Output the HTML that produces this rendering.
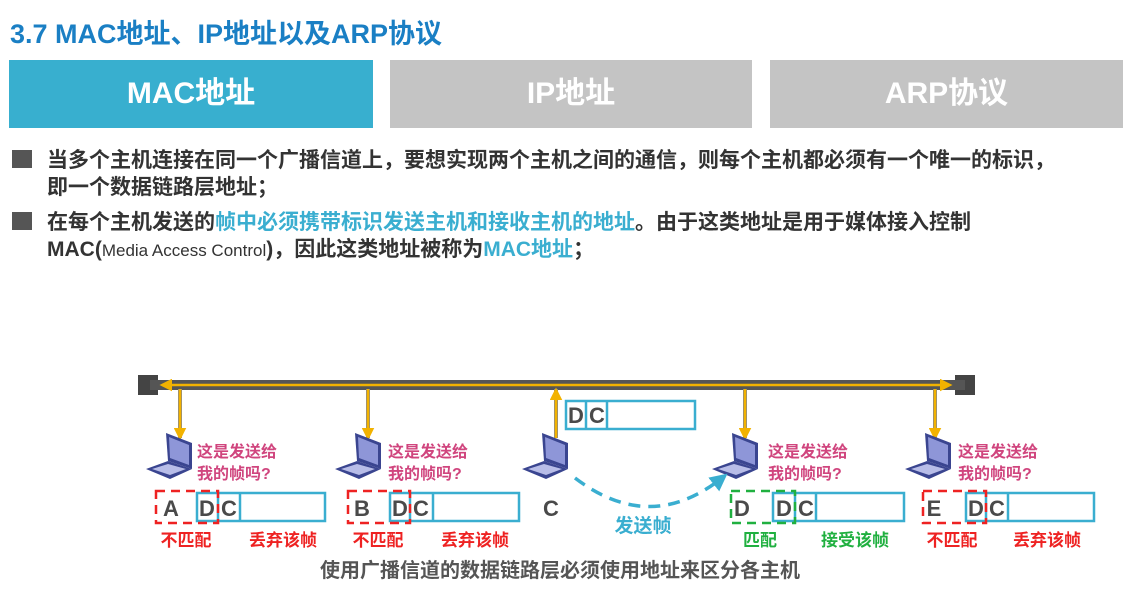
<!DOCTYPE html>
<html><head><meta charset="utf-8"><style>
body{margin:0;width:1123px;height:609px;background:#fff;overflow:hidden;font-family:"Liberation Sans","Noto Sans CJK SC",sans-serif;position:relative}
.a{position:absolute;white-space:nowrap}
.tab{position:absolute;top:60px;height:68px;color:#fff;font-size:30px;font-weight:bold;text-align:center;line-height:68px}
.bl{position:absolute;left:12px;width:20px;height:18px;background:#555}
.t{font-size:21px;font-weight:bold;color:#333;line-height:24px}
.hl{color:#3aaed0}
</style></head><body>
<div class="a" style="left:10px;top:12px;font-size:27px;font-weight:bold;color:#1a7fc4">3.7 MAC地址、IP地址以及ARP协议</div>
<div class="tab" style="left:9px;width:364px;background:#38afcf">MAC地址</div>
<div class="tab" style="left:390px;width:362px;background:#c4c4c4">IP地址</div>
<div class="tab" style="left:770px;width:353px;background:#c4c4c4">ARP协议</div>
<div class="bl" style="top:150px"></div>
<div class="a t" style="left:47px;top:149px">当多个主机连接在同一个广播信道上，要想实现两个主机之间的通信，则每个主机都必须有一个唯一的标识，</div>
<div class="a t" style="left:47px;top:176px">即一个数据链路层地址；</div>
<div class="bl" style="top:212px"></div>
<div class="a t" style="left:47px;top:211px">在每个主机发送的<span class="hl">帧中必须携带标识发送主机和接收主机的地址</span>。由于这类地址是用于媒体接入控制</div>
<div class="a t" style="left:47px;top:238px">MAC(<span style="font-weight:normal;font-size:17px">Media Access Control</span>)，因此这类地址被称为<span class="hl">MAC地址</span>；</div>
<svg width="1123" height="609" style="position:absolute;left:0;top:0" font-family="Liberation Sans,Noto Sans CJK SC,sans-serif">
<defs>
<marker id="ay" markerWidth="5" markerHeight="5" refX="4" refY="2.5" orient="auto"><path d="M0,0L5,2.5L0,5z" fill="#f2b200"/></marker>
<marker id="ab" markerWidth="5" markerHeight="5" refX="3" refY="2.5" orient="auto"><path d="M0,0L5,2.5L0,5z" fill="#3aaed0"/></marker>
<g id="lap">
<polygon points="20,0 46,10 46,36 22,28" fill="#3a4590"/>
<polygon points="23,4 43,12 43,32 24,25" fill="#8e96d8"/>
<polygon points="0,36 22,28 46,36 24,46" fill="#3a4590"/>
<polygon points="6,36 22,31 40,36 24,42" fill="#b8bde8"/>
</g>
</defs>
<rect x="138" y="375" width="20" height="20" fill="#444"/>
<rect x="955" y="375" width="20" height="20" fill="#444"/>
<rect x="150" y="380" width="815" height="10" fill="#555"/>
<line x1="555" y1="385" x2="162" y2="385" stroke="#f2b200" stroke-width="2.5" marker-end="url(#ay)"/>
<line x1="555" y1="385" x2="950" y2="385" stroke="#f2b200" stroke-width="2.5" marker-end="url(#ay)"/>
<g stroke="#888" stroke-width="4"><line x1="180" y1="389" x2="180" y2="438"/><line x1="368" y1="389" x2="368" y2="438"/><line x1="556" y1="389" x2="556" y2="438"/><line x1="745" y1="389" x2="745" y2="438"/><line x1="935" y1="389" x2="935" y2="438"/></g>
<g stroke="#f2b200" stroke-width="2.5"><line x1="180" y1="389" x2="180" y2="438" marker-end="url(#ay)"/><line x1="368" y1="389" x2="368" y2="438" marker-end="url(#ay)"/><line x1="556" y1="438" x2="556" y2="390" marker-end="url(#ay)"/><line x1="745" y1="389" x2="745" y2="438" marker-end="url(#ay)"/><line x1="935" y1="389" x2="935" y2="438" marker-end="url(#ay)"/></g>
<use href="#lap" x="146" y="433"/><use href="#lap" x="335" y="433"/><use href="#lap" x="522" y="433"/><use href="#lap" x="712" y="433"/><use href="#lap" x="905" y="433"/>
<g font-size="16" font-weight="bold" fill="#d0457e">
<text x="197" y="457">这是发送给</text><text x="197" y="479">我的帧吗?</text>
<text x="388" y="457">这是发送给</text><text x="388" y="479">我的帧吗?</text>
<text x="768" y="457">这是发送给</text><text x="768" y="479">我的帧吗?</text>
<text x="958" y="457">这是发送给</text><text x="958" y="479">我的帧吗?</text>
</g>
<g fill="none" stroke="#3aaed0" stroke-width="2.5">
<rect x="566" y="401" width="129" height="28"/><line x1="586" y1="401" x2="586" y2="429"/><line x1="607" y1="401" x2="607" y2="429"/>
<rect x="197" y="493" width="128" height="28"/><line x1="218" y1="493" x2="218" y2="521"/><line x1="240" y1="493" x2="240" y2="521"/>
<rect x="390" y="493" width="129" height="28"/><line x1="410" y1="493" x2="410" y2="521"/><line x1="433" y1="493" x2="433" y2="521"/>
<rect x="773" y="493" width="131" height="28"/><line x1="795" y1="493" x2="795" y2="521"/><line x1="816" y1="493" x2="816" y2="521"/>
<rect x="966" y="493" width="128" height="28"/><line x1="986" y1="493" x2="986" y2="521"/><line x1="1008" y1="493" x2="1008" y2="521"/>
</g>
<g fill="none" stroke-width="2.5" stroke-dasharray="9,6">
<rect x="156" y="491" width="62" height="32" stroke="#ee2222"/>
<rect x="348" y="491" width="62" height="32" stroke="#ee2222"/>
<rect x="731" y="491" width="64" height="32" stroke="#20b040"/>
<rect x="923" y="491" width="63" height="32" stroke="#ee2222"/>
</g>
<path d="M575,478 Q650,535 722,478" fill="none" stroke="#3aaed0" stroke-width="3.5" stroke-dasharray="12,8" marker-end="url(#ab)"/>
<g font-size="22" fill="#4a4a4a" text-anchor="middle" font-weight="bold">
<text x="576" y="423">D</text><text x="597" y="423">C</text>
<text x="171" y="516">A</text><text x="207" y="516">D</text><text x="229" y="516">C</text>
<text x="362" y="516">B</text><text x="400" y="516">D</text><text x="421" y="516">C</text>
<text x="551" y="516">C</text>
<text x="742" y="516">D</text><text x="784" y="516">D</text><text x="806" y="516">C</text>
<text x="934" y="516">E</text><text x="976" y="516">D</text><text x="997" y="516">C</text>
</g>
<g font-size="17" font-weight="bold" text-anchor="middle">
<text x="186" y="546" fill="#ee2222">不匹配</text><text x="283" y="546" fill="#ee2222">丢弃该帧</text>
<text x="378" y="546" fill="#ee2222">不匹配</text><text x="475" y="546" fill="#ee2222">丢弃该帧</text>
<text x="760" y="546" fill="#20b040">匹配</text><text x="855" y="546" fill="#20b040">接受该帧</text>
<text x="952" y="546" fill="#ee2222">不匹配</text><text x="1047" y="546" fill="#ee2222">丢弃该帧</text>
<text x="643" y="532" fill="#3aaed0" font-size="19">发送帧</text>
<text x="560" y="577" fill="#555" font-size="20">使用广播信道的数据链路层必须使用地址来区分各主机</text>
</g>
</svg>
</body></html>
